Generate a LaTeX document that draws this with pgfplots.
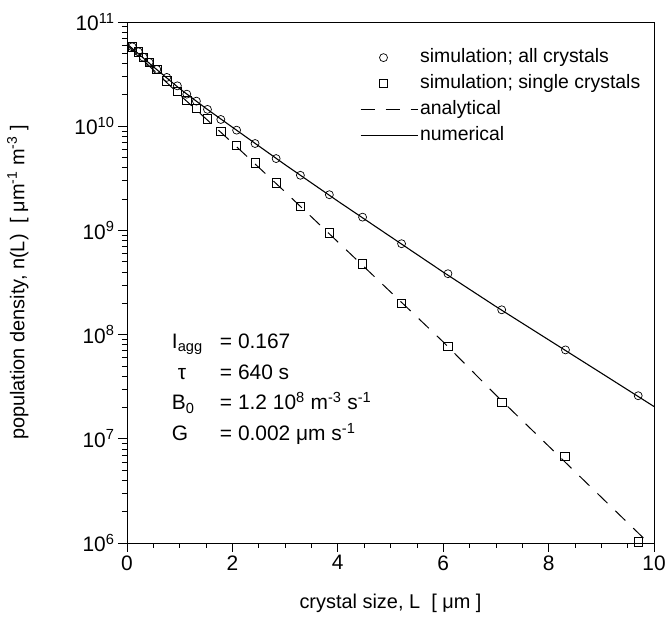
\documentclass[border=0pt]{standalone}
\usepackage{pgfplots}
\pgfplotsset{compat=1.18}
\usepackage{fontspec}
\setmainfont{Liberation Sans}
\pgfplotsset{
  legmark/.style={legend image code/.code={\path[draw=none] (0bp,0bp) -- (57bp,0bp);\draw[##1] plot coordinates {(23bp,0bp)};}},
  legline/.style={legend image code/.code={\draw[##1] (0bp,0bp) -- (57bp,0bp);}},
}
\begin{document}
\begin{tikzpicture}
\begin{axis}[
  scale only axis, width=527bp, height=521bp,
  xmin=0, xmax=10, ymin=1e6, ymax=1e11, ymode=log,
  xtick={0,2,...,10}, minor x tick num=3,
  ytick={1e6,1e7,1e8,1e9,1e10,1e11},
  yticklabels={10\textsuperscript{6},10\textsuperscript{7},10\textsuperscript{8},10\textsuperscript{9},10\textsuperscript{10},10\textsuperscript{11}},
  tick align=outside, xtick pos=bottom, ytick pos=left,
  major tick length=9bp, minor tick length=5bp,
  every tick/.style={black, line width=0.7pt},
  axis line style={line width=0.9pt},
  /pgf/number format/assume math mode=true,
  ticklabel style={font=\fontsize{21}{25}\selectfont},
  every axis x label/.style={at={(axis description cs:0.5,-0.115)},anchor=center},
  every axis y label/.style={at={(axis description cs:-0.207,0.5)},rotate=90,anchor=center},
  label style={font=\fontsize{20}{24}\selectfont},
  xlabel={crystal size, L\ \ [ μm ]},
  ylabel={population density, n(L)\ \ [ μm\textsuperscript{-1} m\textsuperscript{-3} ]},
  clip mode=individual,
  legend style={draw=none, fill=none, at={(axis description cs:0.436,0.955)}, anchor=north west,
    font=\fontsize{19.5}{24}\selectfont, row sep=6bp, column sep=2bp,
    nodes={inner sep=0pt, text height=15bp, text depth=5bp}},
  legend cell align=left,
]
\addplot[only marks, mark=o, mark size=4bp, mark options={line width=0.7pt}, legmark] coordinates {
(0.10,5.78e10) (0.215,5.18e10) (0.31,4.60e10) (0.42,4.10e10) (0.565,3.51e10)
(0.755,2.94e10) (0.956,2.44e10) (1.135,2.03e10) (1.317,1.74e10) (1.527,1.45e10)
(1.78,1.16e10) (2.08,9.16e9) (2.43,6.82e9) (2.83,4.89e9) (3.29,3.38e9)
(3.84,2.20e9) (4.47,1.34e9) (5.21,7.45e8) (6.09,3.84e8) (7.11,1.73e8)
(8.32,7.13e7) (9.70,2.59e7)
};
\addlegendentry{simulation; all crystals}
\addplot[only marks, mark=square, mark size=4.2bp, mark options={line width=0.7pt}, legmark] coordinates {
(0.10,5.78e10) (0.215,5.18e10) (0.31,4.60e10) (0.42,4.10e10) (0.565,3.51e10)
(0.755,2.73e10) (0.956,2.17e10) (1.135,1.78e10) (1.317,1.48e10) (1.527,1.18e10)
(1.78,8.95e9) (2.08,6.56e9) (2.43,4.44e9) (2.83,2.86e9) (3.29,1.70e9)
(3.84,9.51e8) (4.47,4.76e8) (5.21,2.00e8) (6.09,7.67e7) (7.11,2.23e7)
(8.31,6.76e6) (9.70,1.03e6)
};
\addlegendentry{simulation; single crystals}
\addplot[black, line width=1pt, dash pattern=on 14bp off 11bp, legline] coordinates {
(0,6.03e10) (1,2.00e10) (2,6.92e9) (3,2.34e9) (4,7.76e8) (5,2.57e8)
(6,8.51e7) (7,2.63e7) (8,8.51e6) (9,2.75e6) (10,8.9e5)
};
\addlegendentry{analytical}
\addplot[black, line width=1.1pt, legline] coordinates {
(0,6.17e10) (0.5,3.72e10) (1,2.29e10) (1.5,1.48e10) (2,9.77e9) (3,4.27e9)
(4,1.91e9) (5,8.71e8) (6,3.98e8) (7,1.86e8) (8,8.91e7) (9,4.27e7) (10,2.04e7)
};
\addlegendentry{numerical}
\node[anchor=base west, inner sep=0pt, font=\fontsize{21}{31}\selectfont] at (axis cs:0.85,7.4e7) {%
\begin{tabular}[t]{@{}l@{}}
\makebox[48bp][l]{I\textsubscript{agg}}= 0.167\\
\makebox[48bp][l]{\hspace{6bp}τ}= 640 s\\
\makebox[48bp][l]{B\textsubscript{0}}= 1.2 10\textsuperscript{8} m\textsuperscript{-3} s\textsuperscript{-1}\\
\makebox[48bp][l]{G}= 0.002 μm s\textsuperscript{-1}
\end{tabular}};
\end{axis}
\pgfresetboundingbox
\path[use as bounding box] (-127bp,-75bp) rectangle (539bp,543bp);
\end{tikzpicture}
\end{document}
